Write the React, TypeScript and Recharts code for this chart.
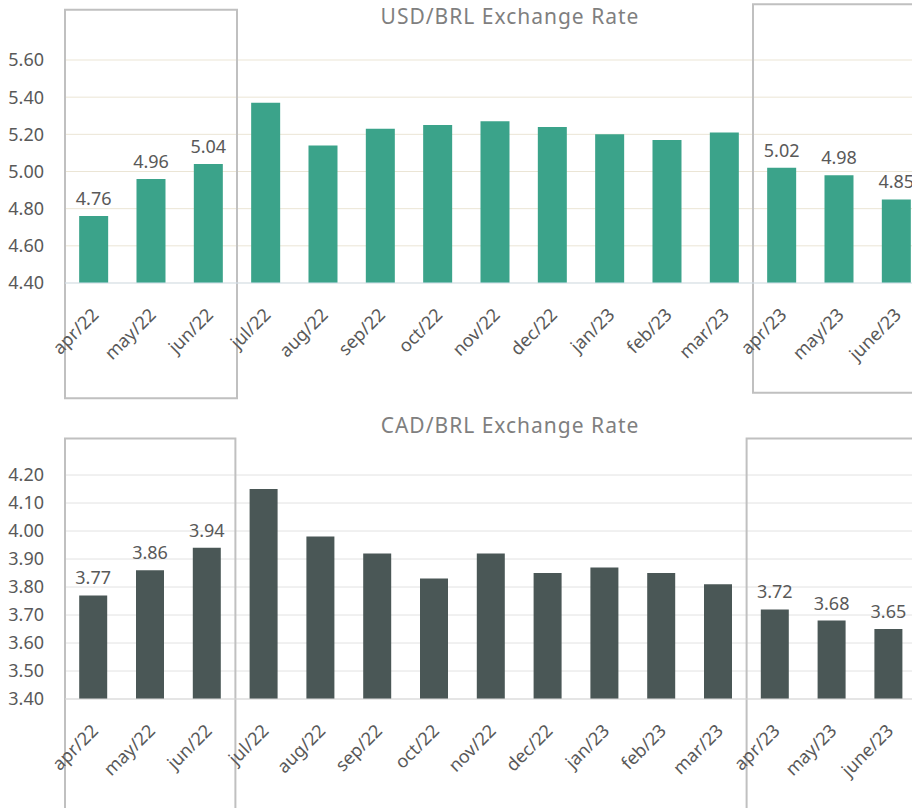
import React from 'react';
import { BarChart, Bar, XAxis, YAxis, CartesianGrid, LabelList, ReferenceArea } from 'recharts';

const months = [
  'apr/22', 'may/22', 'jun/22', 'jul/22', 'aug/22', 'sep/22', 'oct/22', 'nov/22',
  'dec/22', 'jan/23', 'feb/23', 'mar/23', 'apr/23', 'may/23', 'june/23',
];
const usdBrl = [4.76, 4.96, 5.04, 5.37, 5.14, 5.23, 5.25, 5.27, 5.24, 5.2, 5.17, 5.21, 5.02, 4.98, 4.85];
const cadBrl = [3.77, 3.86, 3.94, 4.15, 3.98, 3.92, 3.83, 3.92, 3.85, 3.87, 3.85, 3.81, 3.72, 3.68, 3.65];
const labeledMonths = ['apr/22', 'may/22', 'jun/22', 'apr/23', 'may/23', 'june/23'];
const usdTicks = [4.4, 4.6, 4.8, 5.0, 5.2, 5.4, 5.6];
const cadTicks = [3.4, 3.5, 3.6, 3.7, 3.8, 3.9, 4.0, 4.1, 4.2];

const FONT = "'Noto Sans', sans-serif";
const TEXT = '#595959';

const buildRows = (values: number[]) =>
  months.map((month, i) => ({
    month,
    value: values[i],
    label: labeledMonths.includes(month) ? values[i].toFixed(2) : null,
  }));

const usdData = buildRows(usdBrl);
const cadData = buildRows(cadBrl);

const MonthTick = (props: any) => {
  const { x, y, payload } = props;
  const tx = x + 6;
  const ty = y + 25;
  return (
    <text
      x={tx}
      y={ty}
      transform={`rotate(-45, ${tx}, ${ty})`}
      textAnchor="end"
      fill={TEXT}
      fontSize={18}
      fontFamily={FONT}
    >
      {payload.value}
    </text>
  );
};

const titleStyle = (top: number): React.CSSProperties => ({
  position: 'absolute',
  top,
  left: 310,
  width: 400,
  textAlign: 'center',
  fontSize: 21,
  letterSpacing: 1,
  color: '#7f7f7f',
  fontFamily: FONT,
});

const boxProps = {
  fill: 'none',
  stroke: '#c0c0c0',
  strokeWidth: 2,
  ifOverflow: 'visible' as const,
};

const App: React.FC = () => {
  return (
    <div
      style={{
        position: 'absolute',
        top: 0,
        left: 0,
        width: 912,
        height: 808,
        overflow: 'hidden',
        background: '#fff',
        fontFamily: FONT,
      }}
    >
      <div style={{ position: 'absolute', top: 0, left: 0 }}>
        <BarChart
          width={930}
          height={400}
          data={usdData}
          margin={{ top: 60, right: 5, bottom: 0, left: 0 }}
          barCategoryGap="24.7%"
        >
          <CartesianGrid vertical={false} stroke="#ebe5d5" />
          <XAxis
            dataKey="month"
            interval={0}
            height={117}
            tickLine={false}
            axisLine={{ stroke: '#d5e3f1' }}
            tick={<MonthTick />}
          />
          <YAxis
            width={65}
            domain={[4.4, 5.6]}
            ticks={usdTicks}
            tickFormatter={(v: number) => v.toFixed(2)}
            axisLine={false}
            tickLine={false}
            tickMargin={15}
            tick={{ fill: TEXT, fontSize: 18, fontFamily: FONT }}
          />
          <Bar dataKey="value" fill="#3ba38a" isAnimationActive={false}>
            <LabelList dataKey="label" position="top" offset={11} fill={TEXT} fontSize={18} fontFamily={FONT} />
          </Bar>
          <ReferenceArea x1="apr/22" x2="jun/22" y1={3.78} y2={5.87} {...boxProps} />
          <ReferenceArea x1="apr/23" x2="june/23" y1={3.81} y2={5.9} {...boxProps} />
        </BarChart>
        <div style={titleStyle(2)}>USD/BRL Exchange Rate</div>
      </div>

      <div style={{ position: 'absolute', top: 400, left: 0 }}>
        <BarChart
          width={920}
          height={408}
          data={cadData}
          margin={{ top: 75, right: 3, bottom: 0, left: 0 }}
          barCategoryGap="25%"
        >
          <CartesianGrid vertical={false} stroke="#e2e2e2" />
          <XAxis
            dataKey="month"
            interval={0}
            height={109}
            tickLine={false}
            axisLine={{ stroke: '#d9d9d9' }}
            tick={<MonthTick />}
          />
          <YAxis
            width={65}
            domain={[3.4, 4.2]}
            ticks={cadTicks}
            tickFormatter={(v: number) => v.toFixed(2)}
            axisLine={false}
            tickLine={false}
            tickMargin={15}
            tick={{ fill: TEXT, fontSize: 18, fontFamily: FONT }}
          />
          <Bar dataKey="value" fill="#4a5756" isAnimationActive={false}>
            <LabelList dataKey="label" position="top" offset={11} fill={TEXT} fontSize={18} fontFamily={FONT} />
          </Bar>
          <ReferenceArea x1="apr/22" x2="jun/22" y1={3.0} y2={4.33} {...boxProps} />
          <ReferenceArea x1="apr/23" x2="june/23" y1={3.0} y2={4.33} {...boxProps} />
        </BarChart>
        <div style={titleStyle(11)}>CAD/BRL Exchange Rate</div>
      </div>
    </div>
  );
};

export default App;
